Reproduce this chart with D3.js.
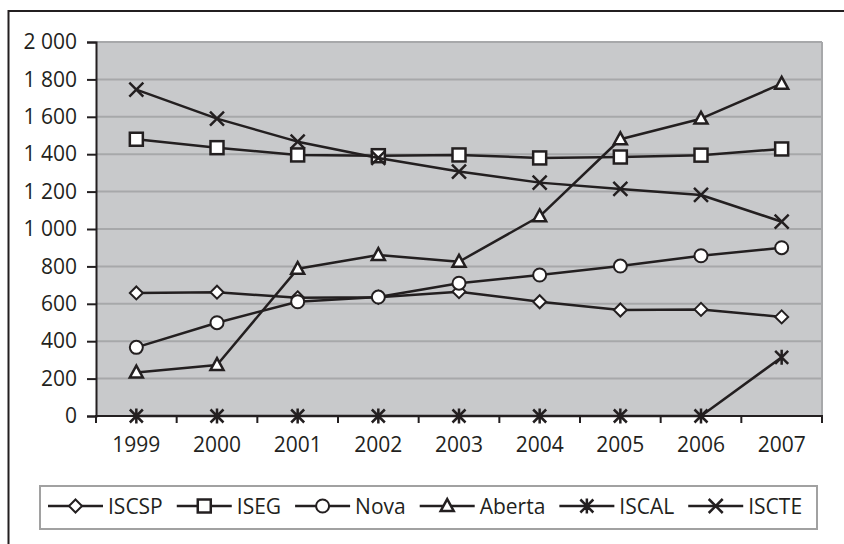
<!DOCTYPE html>
<html>
<head>
<meta charset="utf-8">
<script src="https://cdn.jsdelivr.net/npm/d3@7/dist/d3.min.js"></script>
<style>
  html, body { margin: 0; padding: 0; background: #fff; }
  svg { display: block; }
  text { font-family: "Open Sans", "Noto Sans", sans-serif; fill: #231f20; font-weight: 500; }
</style>
</head>
<body>
<svg id="chart" width="844" height="544"></svg>
<script>
// Enrolment by school, 1999–2007
const years = ["1999", "2000", "2001", "2002", "2003", "2004", "2005", "2006", "2007"];
const seriesNames = ["ISCSP", "ISEG", "Nova", "Aberta", "ISCAL", "ISCTE"];
const markerTypes = ["diamond", "square", "circle", "triangle", "asterisk", "cross"];
const iscsp  = [658, 662, 632, 635, 665, 611, 567, 570, 530];
const iseg   = [1480, 1435, 1396, 1392, 1396, 1380, 1385, 1395, 1428];
const nova   = [367, 499, 611, 636, 710, 754, 802, 857, 900];
const aberta = [233, 273, 787, 861, 825, 1068, 1480, 1590, 1777];
const iscal  = [0, 0, 0, 0, 0, 0, 0, 0, 314];
const iscte  = [1745, 1590, 1467, 1380, 1307, 1248, 1214, 1182, 1039];
const yTicks = [0, 200, 400, 600, 800, 1000, 1200, 1400, 1600, 1800, 2000];

const seriesValues = [iscsp, iseg, nova, aberta, iscal, iscte];

const ink = "#231f20";
const fontSize = 21;
const svg = d3.select("#chart");

// Outer frame (top and left edges visible)
svg.append("line").attr("x1", 8).attr("x2", 844).attr("y1", 11).attr("y2", 11)
  .attr("stroke", ink).attr("stroke-width", 2);
svg.append("line").attr("x1", 8.5).attr("x2", 8.5).attr("y1", 10).attr("y2", 544)
  .attr("stroke", ink).attr("stroke-width", 2);

const plot = { left: 96, top: 42, right: 822, bottom: 416 };

const x = d3.scaleBand().domain(years).range([plot.left, plot.right]).padding(0);
const y = d3.scaleLinear().domain([0, 2000]).range([plot.bottom, plot.top]);

// Plot background
svg.append("rect")
  .attr("x", plot.left).attr("y", plot.top)
  .attr("width", plot.right - plot.left).attr("height", plot.bottom - plot.top)
  .attr("fill", "#c8c9cb");

// Horizontal gridlines
svg.append("g").selectAll("line").data(yTicks.filter(d => d > 0)).join("line")
  .attr("x1", plot.left).attr("x2", plot.right)
  .attr("y1", d => y(d)).attr("y2", d => y(d))
  .attr("stroke", "#a7a8aa").attr("stroke-width", 2);

// Right edge of plot area
svg.append("line").attr("x1", plot.right).attr("x2", plot.right)
  .attr("y1", plot.top).attr("y2", plot.bottom)
  .attr("stroke", "#a7a8aa").attr("stroke-width", 2);

// Y axis with space as thousands separator
const fmt = v => d3.format(",")(v).replace(/,/g, " ");
const yAxis = d3.axisLeft(y).tickValues(yTicks).tickFormat(fmt).tickSize(9).tickPadding(10);
const gy = svg.append("g").attr("transform", `translate(${plot.left},0)`).call(yAxis);
gy.select(".domain").attr("stroke", ink).attr("stroke-width", 2);
gy.selectAll(".tick line").attr("stroke", ink).attr("stroke-width", 2);
gy.selectAll(".tick text").attr("font-size", fontSize).attr("fill", ink)
  .style("font-family", '"Open Sans", "Noto Sans", sans-serif');

// X axis: ticks at category boundaries, labels centred in bands
const gx = svg.append("g").attr("transform", `translate(0,${plot.bottom})`);
gx.append("line").attr("x1", plot.left - 1).attr("x2", plot.right + 1)
  .attr("y1", 0).attr("y2", 0).attr("stroke", ink).attr("stroke-width", 2);
const bounds = years.map(d => x(d)).concat([x(years[years.length - 1]) + x.bandwidth()]);
gx.selectAll("line.tk").data(bounds).join("line").attr("class", "tk")
  .attr("x1", d => d).attr("x2", d => d).attr("y1", 0).attr("y2", 7)
  .attr("stroke", ink).attr("stroke-width", 2);
gx.selectAll("text").data(years).join("text")
  .attr("x", d => x(d) + x.bandwidth() / 2).attr("y", 36)
  .attr("text-anchor", "middle").attr("font-size", fontSize)
  .text(d => d);

// Marker drawing
function drawMarker(g, type, cx, cy) {
  const sw = 2;
  if (type === "diamond") {
    const r = 6.5;
    g.append("path").attr("d", `M${cx},${cy - r}L${cx + r},${cy}L${cx},${cy + r}L${cx - r},${cy}Z`)
      .attr("fill", "#fff").attr("stroke", ink).attr("stroke-width", sw);
  } else if (type === "square") {
    const s = 13;
    g.append("rect").attr("x", cx - s / 2).attr("y", cy - s / 2).attr("width", s).attr("height", s)
      .attr("fill", "#fff").attr("stroke", ink).attr("stroke-width", sw + 0.5);
  } else if (type === "circle") {
    g.append("circle").attr("cx", cx).attr("cy", cy).attr("r", 6.5)
      .attr("fill", "#fff").attr("stroke", ink).attr("stroke-width", sw);
  } else if (type === "triangle") {
    const w = 13, h = 11;
    g.append("path").attr("d", `M${cx},${cy - h * 0.62}L${cx + w / 2},${cy + h * 0.45}L${cx - w / 2},${cy + h * 0.45}Z`)
      .attr("fill", "#fff").attr("stroke", ink).attr("stroke-width", sw + 0.5).attr("stroke-linejoin", "miter");
  } else if (type === "asterisk") {
    const r = 6.5;
    g.append("path").attr("d",
      `M${cx - r},${cy - r}L${cx + r},${cy + r}M${cx + r},${cy - r}L${cx - r},${cy + r}M${cx},${cy - r - 1}L${cx},${cy + r + 1}`)
      .attr("stroke", ink).attr("stroke-width", sw + 0.5).attr("fill", "none");
  } else if (type === "cross") {
    const r = 7;
    g.append("path").attr("d",
      `M${cx - r},${cy - r}L${cx + r},${cy + r}M${cx + r},${cy - r}L${cx - r},${cy + r}`)
      .attr("stroke", ink).attr("stroke-width", sw + 0.5).attr("fill", "none");
  }
}

// Series lines and markers
const line = d3.line().x((d, i) => x(years[i]) + x.bandwidth() / 2).y(d => y(d));
seriesValues.forEach((vals, si) => {
  const g = svg.append("g");
  g.append("path").attr("d", line(vals)).attr("fill", "none")
    .attr("stroke", ink).attr("stroke-width", 2.5).attr("stroke-linejoin", "round");
  vals.forEach((v, i) => drawMarker(g, markerTypes[si], x(years[i]) + x.bandwidth() / 2, y(v)));
});

// Legend
const legend = { left: 40, top: 486, right: 817, bottom: 529 };
svg.append("rect")
  .attr("x", legend.left).attr("y", legend.top)
  .attr("width", legend.right - legend.left).attr("height", legend.bottom - legend.top)
  .attr("fill", "#fff").attr("stroke", "#a1a1a1").attr("stroke-width", 2);

let lx = 48;
const ly = 506;
seriesNames.forEach((name, si) => {
  const g = svg.append("g");
  g.append("line").attr("x1", lx).attr("x2", lx + 55).attr("y1", ly).attr("y2", ly)
    .attr("stroke", ink).attr("stroke-width", 2.5);
  drawMarker(g, markerTypes[si], lx + 27.5, ly);
  const t = g.append("text").attr("x", lx + 60).attr("y", ly + 7.5).attr("font-size", fontSize).text(name);
  lx = lx + 60 + t.node().getComputedTextLength() + 14;
});
</script>
</body>
</html>
